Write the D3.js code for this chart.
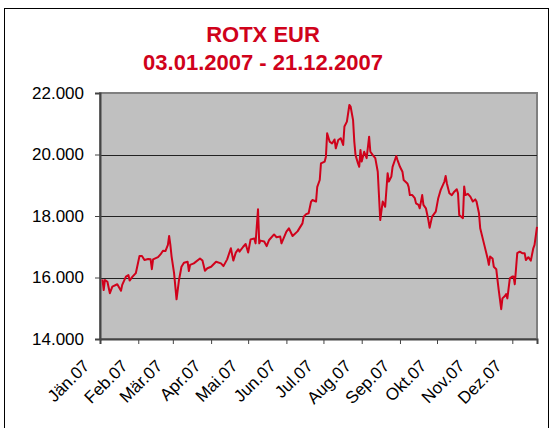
<!DOCTYPE html>
<html>
<head>
<meta charset="utf-8">
<script src="https://cdn.jsdelivr.net/npm/d3@7"></script>
<style>
  body { margin: 0; background: #fff; }
  svg { display: block; font-family: "Liberation Sans", Arial, sans-serif; }
</style>
</head>
<body>
<svg id="chart" width="550" height="428"></svg>
<script>
// ROTX EUR 2007
var dates = [
  "2007-01-03","2007-01-04","2007-01-05","2007-01-07","2007-01-09","2007-01-11","2007-01-15","2007-01-18",
  "2007-01-19","2007-01-22","2007-01-24","2007-01-25","2007-01-27","2007-01-30","2007-02-01","2007-02-02",
  "2007-02-04","2007-02-06","2007-02-09","2007-02-11","2007-02-12","2007-02-13","2007-02-17","2007-02-19",
  "2007-02-21","2007-02-23","2007-02-25","2007-02-26","2007-02-27","2007-02-28","2007-03-02","2007-03-04",
  "2007-03-06","2007-03-08","2007-03-10","2007-03-13","2007-03-14","2007-03-15","2007-03-18","2007-03-23",
  "2007-03-25","2007-03-27","2007-03-29","2007-04-01","2007-04-05","2007-04-09","2007-04-11","2007-04-14",
  "2007-04-17","2007-04-19","2007-04-21","2007-04-23","2007-04-24","2007-04-27","2007-04-29","2007-05-01",
  "2007-05-03","2007-05-06","2007-05-07","2007-05-09","2007-05-10","2007-05-11","2007-05-14","2007-05-16",
  "2007-05-18","2007-05-22","2007-05-24","2007-05-27","2007-05-28","2007-06-01","2007-06-03","2007-06-06",
  "2007-06-10","2007-06-14","2007-06-15","2007-06-17","2007-06-19","2007-06-21","2007-06-22","2007-06-25",
  "2007-06-26","2007-06-28","2007-06-29","2007-07-02","2007-07-03","2007-07-04","2007-07-06","2007-07-08",
  "2007-07-10","2007-07-11","2007-07-13","2007-07-15","2007-07-17","2007-07-18","2007-07-20","2007-07-22",
  "2007-07-23","2007-07-25","2007-07-26","2007-07-27","2007-07-29","2007-07-30","2007-07-31","2007-08-01",
  "2007-08-03","2007-08-05","2007-08-07","2007-08-08","2007-08-10","2007-08-12","2007-08-14","2007-08-16",
  "2007-08-18","2007-08-20","2007-08-22","2007-08-23","2007-08-25","2007-08-26","2007-08-29","2007-08-30",
  "2007-09-01","2007-09-03","2007-09-04","2007-09-07","2007-09-08","2007-09-09","2007-09-11","2007-09-13",
  "2007-09-14","2007-09-16","2007-09-17","2007-09-19","2007-09-20","2007-09-22","2007-09-24","2007-09-25",
  "2007-09-27","2007-09-30","2007-10-02","2007-10-04","2007-10-07","2007-10-08","2007-10-09","2007-10-11",
  "2007-10-13","2007-10-15","2007-10-17","2007-10-18","2007-10-19","2007-10-22","2007-10-23","2007-10-24",
  "2007-10-26","2007-10-28","2007-10-30","2007-11-01","2007-11-02","2007-11-04","2007-11-05","2007-11-08",
  "2007-11-11","2007-11-12","2007-11-13","2007-11-15","2007-11-16","2007-11-18","2007-11-19","2007-11-20",
  "2007-11-22","2007-11-23","2007-11-25","2007-11-26","2007-11-27","2007-11-29","2007-12-01","2007-12-02",
  "2007-12-03","2007-12-05","2007-12-07","2007-12-09","2007-12-11","2007-12-12","2007-12-14","2007-12-16",
  "2007-12-18","2007-12-19","2007-12-21"
];
var values = [
  15940,15590,15920,15860,15490,15700,15780,15570,
  15760,16030,16080,15900,16010,16140,16510,16700,
  16700,16570,16600,16590,16270,16590,16660,16750,
  16870,16860,17060,17350,17060,16680,16140,15290,
  15920,16350,16480,16510,16210,16410,16460,16620,
  16550,16220,16300,16350,16510,16460,16370,16590,
  16950,16550,16810,16920,16840,17000,17090,16810,
  17240,17270,17110,18220,17110,17200,17170,17020,
  17220,17400,17310,17330,17110,17490,17600,17350,
  17500,17760,17980,18060,18090,18470,18520,18470,
  18950,19170,19710,19770,19930,20690,20420,20360,
  20490,20200,20470,20530,20310,20910,21070,21610,
  21560,21120,20420,19980,19710,19600,20150,19770,
  20090,19880,20580,20090,19980,19880,19440,17870,
  18470,18300,19390,19120,19280,19600,19950,19820,
  19600,19440,19170,19060,18950,18680,18680,18580,
  18410,18360,18250,18680,18360,18250,17870,17620,
  17980,18140,18580,18850,19120,19300,19060,18740,
  18680,18790,18870,18740,18030,17930,18960,18680,
  18720,18630,18470,18540,18470,18090,17600,17110,
  16620,16410,16680,16620,16350,16270,15920,15590,
  14970,15320,15400,15460,15320,15970,16030,16030,
  15780,16790,16840,16790,16790,16570,16660,16550,
  16950,17060,17650
];
var yTicks = [14000, 16000, 18000, 20000, 22000];
var monthLabels = ["Jän.07","Feb.07","Mär.07","Apr.07","Mai.07","Jun.07","Jul.07","Aug.07","Sep.07","Okt.07","Nov.07","Dez.07"];
var titleLines = ["ROTX EUR", "03.01.2007 - 21.12.2007"];

(function () {
  var parse = d3.timeParse("%Y-%m-%d");
  var data = dates.map(function (d, i) { return { date: parse(d), value: values[i] }; });

  var svg = d3.select("#chart");
  var pLeft = 100, pRight = 537, pTop = 93, pBottom = 339;
  var red = "#d0021b";

  // outer frame
  svg.append("rect").attr("x", 4.5).attr("y", 8.5).attr("width", 544).attr("height", 440)
    .attr("fill", "#fff").attr("stroke", "#000").attr("stroke-width", 1);

  var x = d3.scaleTime()
    .domain([new Date(2007, 0, 1), new Date(2007, 11, 21)])
    .range([pLeft, pRight]);
  var y = d3.scaleLinear().domain([14000, 22000]).range([pBottom, pTop]);

  // plot area
  svg.append("rect").attr("x", pLeft).attr("y", pTop).attr("width", pRight - pLeft).attr("height", pBottom - pTop)
    .attr("fill", "#c0c0c0").attr("stroke", "#808080").attr("stroke-width", 2);

  // gridlines
  svg.selectAll(".grid").data(yTicks.slice(1, 4)).enter().append("line")
    .attr("x1", pLeft).attr("x2", pRight)
    .attr("y1", function (d) { return Math.round(y(d)) + 0.5; })
    .attr("y2", function (d) { return Math.round(y(d)) + 0.5; })
    .attr("stroke", "#222").attr("stroke-width", 1);

  // title
  svg.selectAll(".title").data(titleLines).enter().append("text")
    .attr("x", 263).attr("y", function (d, i) { return 42 + i * 28; })
    .attr("text-anchor", "middle").attr("font-size", 22).attr("font-weight", "bold")
    .attr("fill", red).text(function (d) { return d; });

  // y axis
  var fmt = function (d) { return d3.format(",")(d).replace(",", "."); };
  var yAxis = svg.append("g").attr("transform", "translate(" + pLeft + ",0)")
    .call(d3.axisLeft(y).tickValues(yTicks).tickSize(5).tickPadding(11).tickFormat(fmt));
  yAxis.select(".domain").attr("stroke", "#444").attr("stroke-width", 2);
  yAxis.selectAll(".tick line").attr("stroke", "#444");
  yAxis.selectAll("text").attr("font-size", 17).attr("fill", "#000")
    .attr("font-family", "'Liberation Sans', Arial, sans-serif");

  // x axis
  var months = d3.range(12).map(function (m) { return new Date(2007, m, 1); });
  var xAxis = svg.append("g").attr("transform", "translate(0," + pBottom + ")")
    .call(d3.axisBottom(x).tickValues(months).tickSize(5).tickFormat(function (d, i) { return monthLabels[i]; }));
  xAxis.select(".domain").attr("stroke", "#444").attr("stroke-width", 2);
  xAxis.selectAll(".tick line").attr("stroke", "#444");
  xAxis.selectAll("text").attr("font-size", 17).attr("fill", "#000")
    .attr("font-family", "'Liberation Sans', Arial, sans-serif")
    .attr("text-anchor", "end").attr("x", 0).attr("y", 0).attr("dy", null)
    .attr("transform", "translate(-10,28) rotate(-45)");

  // line
  var line = d3.line()
    .x(function (d) { return x(d.date); })
    .y(function (d) { return y(d.value); });
  svg.append("path").datum(data).attr("d", line)
    .attr("fill", "none").attr("stroke", red).attr("stroke-width", 2).attr("stroke-linejoin", "round");
})();
</script>
</body>
</html>
